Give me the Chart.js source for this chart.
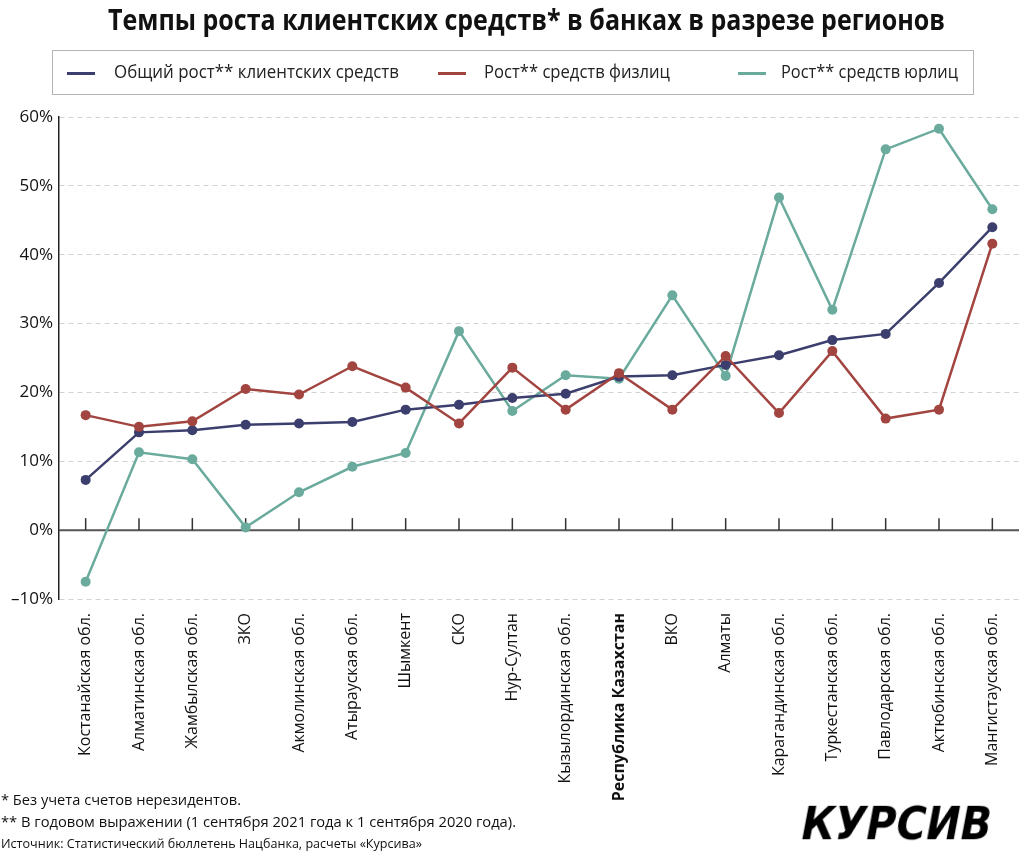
<!DOCTYPE html>
<html lang="ru">
<head>
<meta charset="utf-8">
<script src="https://cdn.jsdelivr.net/npm/chart.js@4.4.1/dist/chart.umd.min.js"></script>
<style>
  html, body { margin: 0; padding: 0; background: #fff; }
  body { width: 1024px; height: 868px; position: relative; overflow: hidden; font-family: "Open Sans", sans-serif; color: #111; }
  #chartWrap { position: absolute; left: 0; top: 0; width: 1024px; height: 868px; }
  .fit { position: absolute; white-space: nowrap; transform-origin: 0 0; line-height: 1; }
  #title { font-weight: bold; font-size: 29px; color: #111; }
  #legend { position: absolute; left: 52px; top: 50px; width: 920px; height: 43px; border: 1px solid #b5b5b5; }
  .legLine { position: absolute; height: 3px; width: 28px; top: 21px; }
  .legText { font-size: 18px; color: #222; top: 12px; }
  .note { font-size: 15px; color: #111; left: 1px; }
  #logo { font-family: "DejaVu Sans", sans-serif; font-weight: bold; font-size: 46px; color: #000; }
</style>
</head>
<body>
<div id="chartWrap"><canvas id="chartLineas"></canvas></div>
<div id="title" class="fit">Темпы роста клиентских средств* в банках в разрезе регионов</div>
<div id="legend"></div>
<div id="nota1" class="fit note">* Без учета счетов нерезидентов.</div>
<div id="nota2" class="fit note">** В годовом выражении (1 сентября 2021 года к 1 сентября 2020 года).</div>
<div id="fuente" class="fit note" style="font-size:13px">Источник: Статистический бюллетень Нацбанка, расчеты «Курсива»</div>
<div id="logo" class="fit">КУРСИВ</div>
<script>
// Datos (en %)
const regiones = [
  'Костанайская обл.', 'Алматинская обл.', 'Жамбылская обл.', 'ЗКО', 'Акмолинская обл.',
  'Атырауская обл.', 'Шымкент', 'СКО', 'Нур-Султан', 'Кызылординская обл.',
  'Республика Казахстан', 'ВКО', 'Алматы', 'Карагандинская обл.', 'Туркестанская обл.',
  'Павлодарская обл.', 'Актюбинская обл.', 'Мангистауская обл.'
];
const crecimientoTotal = [7.3, 14.2, 14.5, 15.3, 15.5, 15.7, 17.5, 18.2, 19.2, 19.8, 22.3, 22.5, 24.0, 25.4, 27.6, 28.5, 35.9, 44.0];
const crecimientoFisicas = [16.7, 15.0, 15.8, 20.5, 19.7, 23.8, 20.7, 15.5, 23.6, 17.5, 22.8, 17.5, 25.3, 17.0, 26.0, 16.2, 17.5, 41.6];
const crecimientoJuridicas = [-7.5, 11.3, 10.3, 0.4, 5.5, 9.2, 11.2, 28.9, 17.3, 22.5, 22.0, 34.1, 22.4, 48.3, 32.0, 55.3, 58.3, 46.6];
const etiquetasSeries = ['Общий рост** клиентских средств', 'Рост** средств физлиц', 'Рост** средств юрлиц'];
const indiceResaltado = 10; // Республика Казахстан en negrita

const colores = ['#3c3f6d', '#a2443f', '#6aab9d'];

// ancho / posición de textos html
function ajustar(id, x, y, ancho) {
  const el = document.getElementById(id);
  el.style.left = x + 'px';
  el.style.top = y + 'px';
  const w = el.getBoundingClientRect().width;
  el.style.transform = 'scaleX(' + (ancho / w) + ')';
}

// leyenda html
const legend = document.getElementById('legend');
const posLeyenda = [[14, 61, 285], [385, 431, 186], [685, 728, 177]];
etiquetasSeries.forEach((txt, i) => {
  const linea = document.createElement('div');
  linea.className = 'legLine';
  linea.style.left = posLeyenda[i][0] + 'px';
  linea.style.background = colores[i];
  legend.appendChild(linea);
  const t = document.createElement('div');
  t.className = 'fit legText';
  t.id = 'leg' + i;
  t.textContent = txt;
  legend.appendChild(t);
  ajustar(t.id, posLeyenda[i][1], 11, posLeyenda[i][2]);
});

ajustar('title', 108, 4, 837);
ajustar('nota1', 1, 792, 240);
ajustar('nota2', 1, 814, 515);
ajustar('fuente', 1, 837, 421);
ajustar('logo', 806, 800, 190);
document.getElementById('logo').style.transform += ' skewX(-12deg)';

// línea del 0% y marcas de categoría
const lineaCero = {
  id: 'lineaCero',
  beforeDatasetsDraw(chart) {
    const { ctx, chartArea, scales } = chart;
    const y0 = scales.y.getPixelForValue(0);
    ctx.save();
    ctx.strokeStyle = '#555';
    ctx.lineWidth = 2;
    ctx.beginPath();
    ctx.moveTo(chartArea.left, y0);
    ctx.lineTo(chartArea.right, y0);
    ctx.stroke();
    ctx.lineWidth = 1.5;
    ctx.strokeStyle = '#333';
    regiones.forEach((_, i) => {
      const x = scales.x.getPixelForValue(i);
      ctx.beginPath();
      ctx.moveTo(x, y0);
      ctx.lineTo(x, y0 - 12);
      ctx.stroke();
    });
    ctx.restore();
  }
};

function serie(label, data, color, order) {
  return {
    label: label,
    data: data,
    borderColor: color,
    backgroundColor: color,
    pointBackgroundColor: color,
    pointBorderColor: color,
    borderWidth: 2.5,
    pointRadius: 5,
    pointBorderWidth: 0,
    tension: 0,
    order: order
  };
}

const ctx = document.getElementById('chartLineas').getContext('2d');
new Chart(ctx, {
  type: 'line',
  data: {
    labels: regiones,
    datasets: [
      serie(etiquetasSeries[0], crecimientoTotal, colores[0], 1),
      serie(etiquetasSeries[1], crecimientoFisicas, colores[1], 0),
      serie(etiquetasSeries[2], crecimientoJuridicas, colores[2], 2)
    ]
  },
  options: {
    responsive: true,
    maintainAspectRatio: false,
    animation: false,
    layout: { padding: { top: 117, left: 0, right: 0, bottom: 0 } },
    plugins: {
      legend: { display: false },
      title: { display: false },
      tooltip: { enabled: false }
    },
    scales: {
      x: {
        offset: true,
        grid: { display: false },
        border: { display: false },
        afterFit: (scale) => { scale.height = 269; },
        ticks: {
          autoSkip: false,
          maxRotation: 90,
          minRotation: 90,
          padding: 6,
          color: '#111',
          font: (c) => ({ family: 'Open Sans', size: 16, weight: c.index === indiceResaltado ? 'bold' : 'normal' })
        }
      },
      y: {
        min: -10,
        max: 60,
        afterFit: (scale) => { scale.width = 59; },
        grid: { color: '#d2d2d2', lineWidth: 1, drawTicks: false },
        border: { display: true, color: '#222', width: 1.5, dash: [5, 4] },
        ticks: {
          stepSize: 10,
          padding: 6,
          color: '#111',
          font: { family: 'Open Sans', size: 17 },
          callback: (v) => (v < 0 ? '\u2013' + Math.abs(v) : v) + '%'
        }
      }
    }
  },
  plugins: [lineaCero]
});
</script>
</body>
</html>
